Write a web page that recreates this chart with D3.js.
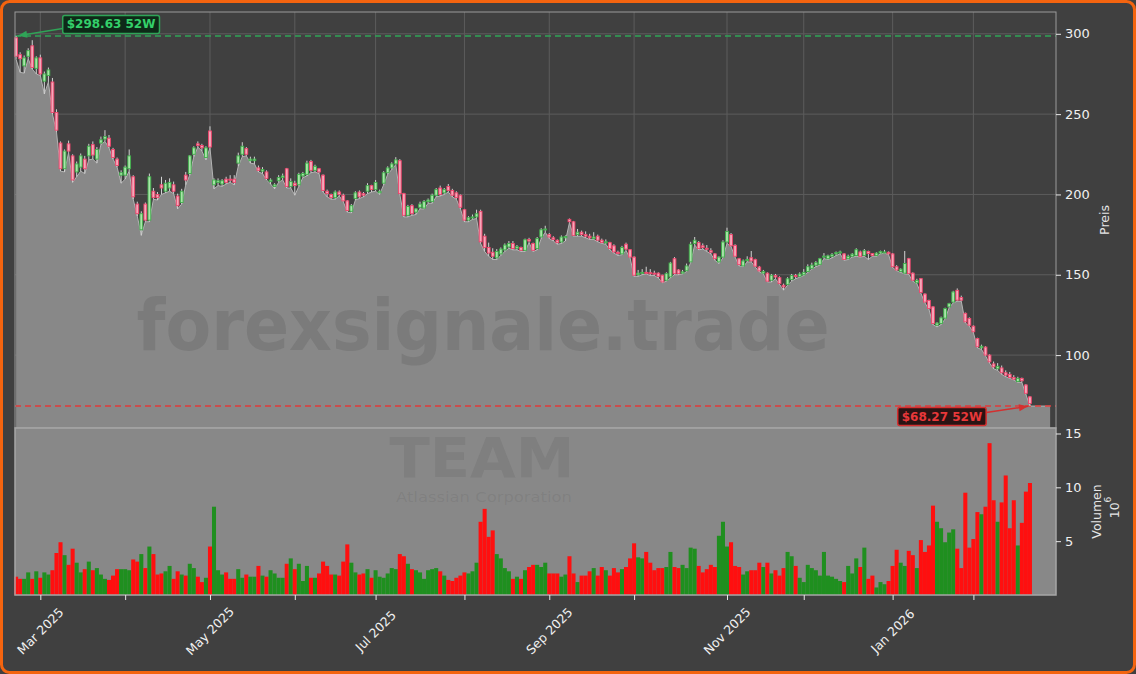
<!DOCTYPE html>
<html>
<head>
<meta charset="utf-8">
<script src="https://cdn.jsdelivr.net/npm/d3@7"></script>
<style>
  html, body { margin: 0; padding: 0; background: #404040; }
  svg { display: block; font-family: "DejaVu Sans", sans-serif; }
</style>
</head>
<body>
<svg id="chart" width="1136" height="674"></svg>
<script>
// TEAM daily candles, 52 weeks (trading days only)
const firstDay = "2025-02-21";
const lastDay = "2026-02-23";
const holidays = ["2025-04-18", "2025-05-26", "2025-06-19", "2025-07-04", "2025-09-01",
    "2025-11-27", "2025-12-25", "2026-01-01", "2026-01-19", "2026-02-16"];

const opens = [
    297.5, 287, 280, 286, 292.5, 278.5, 285, 270.5, 274, 270,
    251, 232, 216, 231.5, 224, 214, 217, 222, 224, 231,
    222, 232, 234.5, 235, 228, 222, 212, 212, 216, 211,
    194, 178, 194, 184, 202, 200, 206, 202, 204, 206,
    199, 195, 212, 213, 225, 231.5, 230.5, 223, 239.5, 206,
    207.5, 206.5, 209.5, 209.5, 209.5, 219.5, 225, 228.5, 221, 221,
    216.5, 214.5, 214, 208, 205, 208.5, 210.5, 216, 205, 207,
    206, 211.5, 212.5, 220.5, 215, 216, 212, 202, 200, 198,
    201.5, 199.5, 196, 189.5, 197.5, 201.5, 200.5, 202, 205.5, 203,
    201, 207, 213.5, 216.5, 219, 221, 200.5, 187, 193, 189,
    192, 191.5, 195.5, 195.5, 199.5, 204, 201, 205, 202.5, 201,
    199.5, 190.5, 184, 185.5, 186, 189.5, 174, 167, 164, 160.5,
    163, 165.5, 167.3, 169.5, 166.5, 167, 165.2, 172, 169.5, 166.3,
    173.5, 178, 175, 173, 171.5, 170.4, 173, 184.5, 183, 175,
    176.5, 175, 174, 172.5, 174, 171.5, 170, 170, 168, 164,
    163, 169, 165.6, 161, 150, 151, 151.5, 151.3, 151, 151,
    149.7, 146.6, 148.7, 160, 153, 151, 152.5, 158, 169.5, 170,
    168, 166.5, 165, 163, 158, 161, 170.4, 175, 168.3, 160,
    155.5, 158.8, 160.6, 159.4, 154.8, 151, 151, 146.6, 149.5, 148.2,
    143.5, 144, 147, 149.5, 149, 150, 152, 154, 156, 156.5,
    161, 160, 161.5, 163, 163.8, 163, 160, 161.5, 162, 164.2,
    162, 164.5, 163.2, 162, 163.5, 163.8, 164, 163, 155, 152,
    151, 160, 151, 145, 147.6, 138, 134, 130, 118.6, 119.7,
    123, 130, 133, 140.3, 135.8, 126, 122.8, 118, 110.3, 104.5,
    105, 100, 94.5, 91.5, 92, 89, 88, 86, 83.5, 85.5,
    81.4, 74
];
const highs = [
    298.63, 288.5, 286.5, 291, 296, 286, 287, 276.5, 279, 272.5,
    253, 233, 228, 233.5, 225, 220.5, 225.5, 224, 231.5, 233,
    229.5, 236, 240, 237, 229, 223, 215, 218, 228, 212,
    195.5, 189.5, 195, 213, 204, 201.5, 211, 209, 210, 208,
    200.5, 203.5, 214, 224.5, 230, 233, 231.5, 230, 242.4, 210,
    210, 209.5, 211, 212, 212, 226, 232.5, 229.5, 223.5, 223.5,
    218, 217, 215, 210, 207, 212, 213, 216.5, 210, 208.5,
    213.5, 214, 221, 221.5, 218.5, 216.5, 212.5, 203, 200.5, 202.5,
    202.5, 200.5, 196.5, 194, 202, 202.5, 201.5, 207, 206, 209,
    203, 214.5, 217.5, 220, 223.2, 222, 201, 193.5, 194, 191.5,
    195.5, 196.5, 197.5, 200.5, 204, 205.5, 204, 206.5, 203.5, 202,
    200, 191, 186.5, 187.5, 190.5, 190.5, 175.5, 170, 166.5, 166,
    167, 169.5, 171, 171, 168.5, 167.5, 172.5, 173, 170, 173.5,
    179, 180.5, 176, 174, 172, 174.5, 174.5, 185, 183.5, 178.5,
    177.5, 177, 175.5, 176.5, 175, 172.5, 172, 170.5, 169, 165,
    168, 170, 166, 161.5, 153, 153.5, 155, 153.5, 152.5, 151.5,
    150, 151.5, 158, 161, 153.5, 153, 157, 170.5, 173.5, 171,
    169.5, 168.5, 166.5, 163.5, 161.5, 171.5, 179.3, 176, 169, 160.5,
    159.5, 161.5, 164.8, 160, 155.5, 153, 151.5, 150.5, 150.5, 149,
    144.5, 148.5, 150.5, 150.5, 151.5, 153.5, 156.5, 157.5, 158.5, 160.5,
    163.5, 162.5, 163.5, 164.5, 165, 163.5, 162.5, 163.5, 166.5, 165,
    166, 165, 163.5, 164, 165, 165.5, 164.5, 163.5, 156, 154,
    164.8, 160.5, 151.5, 147.5, 148, 138.5, 134.5, 130.5, 120.5, 124,
    129.5, 132.5, 140, 141.5, 137, 126.5, 123.5, 118.5, 110.8, 106.5,
    105.5, 100.5, 96, 95, 93.5, 90.5, 89.5, 87.5, 86.5, 86,
    82, 74.5
];
const lows = [
    284, 276, 275.5, 284.5, 278, 275, 274, 262.5, 270, 250,
    239, 214.5, 214, 226, 207.5, 211, 214.5, 213, 221.5, 222,
    219.5, 231, 233, 229, 222, 217, 207, 209.5, 214.5, 197,
    186.5, 174.5, 183, 183, 197, 196.5, 200, 201, 202, 200.5,
    191, 194, 206, 212, 223.5, 229.5, 227, 221.5, 229, 203.5,
    205.5, 205, 206.5, 207.5, 206, 217.5, 223.5, 224, 219.5, 219,
    214, 213, 209, 206.5, 203.5, 207.5, 209, 204, 204, 199.5,
    205, 210.5, 211.5, 213.5, 214, 213, 201.5, 198.5, 197, 197,
    199, 195.5, 189, 188.5, 196.5, 197.5, 198.5, 200.5, 201.5, 202,
    200, 206, 212.5, 215.5, 218.5, 200, 186, 186, 187, 187.5,
    191, 191, 194.5, 194.5, 198.5, 199, 200, 201.5, 198.5, 197,
    191, 183, 183, 184.5, 185, 169.5, 164.5, 161.5, 159.5, 159.5,
    162, 164.5, 166.5, 165.5, 165.5, 164.5, 164.5, 170, 164.5, 165.5,
    172.5, 176.5, 172.5, 171, 169, 169.5, 171, 182.5, 174, 174,
    174, 173, 172, 172, 170.5, 169.5, 169, 165.5, 163.5, 162,
    162.5, 165, 160.5, 149, 149, 150, 150.5, 149.5, 149.5, 148,
    145, 146, 148, 150, 150, 150.5, 152, 157.5, 168.5, 165.5,
    166, 164.5, 163, 159, 157, 160.5, 169.5, 167.5, 161, 155.5,
    155, 158, 158, 154.8, 151.8, 150.5, 145.5, 145.5, 147.5, 144,
    140.4, 143.5, 146, 147.5, 148.5, 149.5, 151.5, 153.5, 155, 156,
    160, 159.5, 160.5, 162, 163, 159, 159.5, 161, 161.5, 161,
    161.5, 159.5, 161.5, 161.5, 163, 163.5, 162.5, 154.5, 152.5, 151.5,
    150.5, 150.2, 146, 144.5, 138.5, 132.5, 128.5, 119, 117.5, 119,
    122.5, 129.5, 132.5, 133.5, 133.5, 120, 118, 114, 104.5, 103.5,
    99.5, 95, 91.5, 90.5, 88, 86.5, 85.5, 84.5, 83, 83,
    75.5, 68.27
];
const closes = [
    286, 284.5, 285, 289.5, 279, 285, 275, 275, 277.5, 251,
    240, 216, 227, 227, 209, 219, 224, 216, 230, 224.5,
    228, 234, 236, 230, 223, 218, 213.5, 217, 224, 198.5,
    188, 188, 184, 211, 198, 198, 204, 207, 207.5, 202,
    193, 202, 209, 224, 229, 230.5, 229, 229, 229.5, 209,
    208.5, 208.5, 207.5, 209, 207.5, 224, 230, 225, 222, 222,
    215, 215.5, 210, 209, 206, 210.5, 211.5, 205, 208, 205.5,
    212.5, 213, 219.5, 215, 217.5, 214, 202.5, 200.5, 198, 201.5,
    200, 196, 190, 193, 201, 198.5, 199.5, 205.5, 203, 207.5,
    202, 213.5, 216.5, 219, 221.5, 200.5, 187, 192.5, 188, 191,
    194, 195.5, 196.5, 199.5, 203, 200, 203, 202.5, 199.5, 198,
    192, 184, 185.5, 186, 188, 170.5, 167, 163.5, 161.5, 164.5,
    166, 168.5, 169.5, 166.3, 167.5, 165.2, 171.8, 171, 165.2, 172.5,
    178, 178.5, 173.5, 172, 170, 173.5, 173.8, 183, 174.5, 176.5,
    175, 174, 173, 173.5, 171.5, 170, 170.5, 166.3, 164.2, 163.2,
    167, 166, 161, 149.7, 151, 151.5, 151.3, 151, 150.7, 149,
    145.5, 150.7, 157.3, 150.7, 150.7, 151.8, 155.5, 169, 171.5, 166.3,
    167, 166, 164, 160, 161, 170.4, 177, 168, 161.5, 156.3,
    158.6, 159.5, 158.6, 155.3, 152.4, 152, 146, 149.7, 148.6, 144.5,
    142.4, 147.5, 149.5, 149, 150.5, 151.5, 155, 156, 157.5, 160,
    161.6, 161.8, 162.5, 163.8, 164.2, 159.5, 161.5, 162.8, 165.6, 161.5,
    165, 163.2, 162, 163.5, 164.5, 164.2, 163, 155, 153, 153.5,
    157, 150.7, 146.6, 146.5, 139, 133, 129, 119.7, 119.9, 123.2,
    129, 132, 139.3, 134.2, 134.2, 120.7, 118.6, 114.5, 105.2, 105.5,
    100, 95.8, 92.7, 93, 89, 87.5, 86, 85, 85.5, 84,
    76.2, 69.9
];
// volume in millions of shares
const volumes = [
    1.7, 1.5, 1.5, 2.1, 1.5, 2.2, 1.6, 2.1, 1.9, 2.3,
    3.9, 4.9, 3.7, 2.8, 4.3, 3.0, 2.1, 2.4, 3.1, 2.3,
    2.5, 1.9, 1.5, 1.4, 1.8, 2.4, 2.4, 2.4, 2.3, 3.3,
    3.1, 3.8, 2.5, 4.5, 3.8, 1.9, 2.0, 2.2, 2.7, 1.5,
    2.2, 1.9, 1.8, 2.9, 2.5, 1.7, 1.2, 1.6, 4.5, 8.2,
    2.3, 1.9, 2.1, 1.5, 1.5, 2.4, 1.6, 1.9, 1.7, 1.7,
    2.7, 1.8, 1.7, 2.3, 2.0, 1.6, 1.6, 2.9, 3.4, 2.4,
    2.9, 1.3, 2.7, 1.6, 1.6, 2.0, 3.1, 2.7, 1.9, 1.9,
    1.8, 3.1, 4.7, 3.0, 2.1, 1.9, 2.0, 2.4, 1.6, 2.3,
    1.7, 1.6, 2.0, 2.5, 2.4, 3.8, 3.6, 2.9, 2.4, 2.3,
    2.1, 1.5, 2.3, 2.4, 2.5, 2.2, 1.8, 1.4, 1.3, 1.6,
    1.8, 2.1, 2.0, 2.2, 3.0, 6.8, 8.0, 5.4, 6.0, 3.8,
    3.4, 2.5, 2.2, 1.5, 1.7, 1.5, 2.3, 2.6, 2.8, 2.8,
    2.6, 3.0, 2.0, 2.0, 2.0, 1.7, 1.9, 3.6, 2.0, 1.2,
    1.8, 1.8, 2.2, 2.5, 1.8, 2.6, 2.3, 1.8, 2.5, 2.1,
    2.4, 2.6, 3.4, 4.8, 3.5, 3.4, 4.0, 3.0, 2.3, 2.5,
    2.5, 2.6, 4.0, 2.6, 2.5, 2.8, 2.5, 4.4, 4.3, 2.7,
    2.1, 2.4, 2.8, 2.6, 5.5, 6.8, 4.5, 4.9, 2.7, 2.6,
    1.9, 2.2, 2.3, 2.3, 3.0, 2.6, 3.0, 2.0, 2.3, 1.8,
    2.5, 4.0, 3.6, 2.7, 1.6, 1.2, 2.8, 2.5, 2.3, 1.8,
    4.0, 1.8, 1.7, 1.5, 1.3, 1.2, 2.7, 2.0, 3.4, 2.6,
    4.4, 1.5, 1.8, 0.7, 1.2, 1.0, 1.3, 2.7, 4.2, 3.0,
    2.7, 4.1, 3.7, 2.5, 5.1, 4.0, 4.6, 8.3, 6.8, 6.2,
    4.9, 5.8, 6.1, 4.3, 2.5, 9.5, 4.4, 5.2, 7.7, 7.5,
    8.2, 14.1, 8.8, 6.8, 8.6, 11.1, 6.2, 8.8, 4.6, 6.7,
    9.6, 10.4
];

const priceTicks = [100, 150, 200, 250, 300];
const volumeTicks = [5, 10, 15];
const watermark = "forexsignale.trade";
const tickerName = "TEAM";
const companyName = "Atlassian Corporation";

///////////////////////////////
/// Layout
///////////////////////////////

const W = 1136, H = 674;
const plotLeft = 15, plotRight = 1056;
const priceTop = 12, priceBottom = 428;
const volTop = 428, volBottom = 595;
const bg = "#404040";
const upStroke = "#3fae4a", upFill = "#a9e5a9";
const downStroke = "#f0436b", downFill = "#f5a8ba";

const svg = d3.select("#chart");
const n = closes.length;

// trading calendar
const parseDay = d3.timeParse("%Y-%m-%d");
const fmtDay = d3.timeFormat("%Y-%m-%d");
const holidaySet = new Set(holidays);
const dates = d3.timeDay.range(parseDay(firstDay), d3.timeDay.offset(parseDay(lastDay), 1))
    .filter(d => d.getDay() !== 0 && d.getDay() !== 6 && !holidaySet.has(fmtDay(d)));

// first trading day of every month
const monthIdx = d3.range(1, n).filter(i => dates[i].getMonth() !== dates[i - 1].getMonth());

let x = d3.scaleLinear().domain([-0.27, n - 1 + 6.45]).range([plotLeft, plotRight]);
let step = x(1) - x(0);

let hi52 = d3.max(highs), lo52 = d3.min(lows);
let y = d3.scaleLinear().domain([lo52 * 0.8, hi52 * 1.05]).range([priceBottom, priceTop]);
let yv = d3.scaleLinear().domain([0, d3.max(volumes) * 1.1]).range([volBottom, volTop]);

// background + orange frame
svg.append("rect").attr("x", 1.5).attr("y", 1.5).attr("width", W - 3).attr("height", H - 3)
    .attr("rx", 8).attr("fill", bg).attr("stroke", "#f4640f").attr("stroke-width", 3);

///////////////////////////////
/// Price panel
///////////////////////////////

let gPrice = svg.append("g");

gPrice.selectAll("line.hgrid").data(priceTicks).enter().append("line")
    .attr("x1", plotLeft).attr("x2", plotRight)
    .attr("y1", d => y(d)).attr("y2", d => y(d))
    .attr("stroke", "#5c5c5c").attr("stroke-width", 1);

gPrice.selectAll("line.vgrid").data(monthIdx).enter().append("line")
    .attr("x1", d => x(d)).attr("x2", d => x(d))
    .attr("y1", priceTop).attr("y2", priceBottom)
    .attr("stroke", "#5c5c5c").attr("stroke-width", 1);

// area under the lows, carried a few bars to the right
let areaIdx = d3.range(n).concat([n + 4]);
let lowAt = i => lows[Math.min(i, n - 1)];
let area = d3.area().x(i => x(i)).y0(priceBottom).y1(i => y(lowAt(i)));
let line = d3.line().x(i => x(i)).y(i => y(lowAt(i)));

gPrice.append("path").datum(areaIdx).attr("d", area).attr("fill", "#888888");
gPrice.append("path").datum(areaIdx).attr("d", line)
    .attr("fill", "none").attr("stroke", "#b4b4b4").attr("stroke-width", 1);

gPrice.append("text")
    .attr("x", 483).attr("y", 350)
    .attr("text-anchor", "middle")
    .attr("font-size", 72).attr("font-weight", "bold")
    .attr("textLength", 693).attr("lengthAdjust", "spacingAndGlyphs")
    .attr("fill", "#3a3a3a").attr("fill-opacity", 0.16)
    .text(watermark);

// 52 week lines
gPrice.append("line")
    .attr("x1", plotLeft).attr("x2", plotRight)
    .attr("y1", y(hi52)).attr("y2", y(hi52))
    .attr("stroke", "#2fa457").attr("stroke-width", 1.5).attr("stroke-dasharray", "6,4");
gPrice.append("line")
    .attr("x1", plotLeft).attr("x2", plotRight)
    .attr("y1", y(lo52)).attr("y2", y(lo52))
    .attr("stroke", "#e03a3a").attr("stroke-width", 1.5).attr("stroke-dasharray", "6,4");

// candles
let candles = gPrice.selectAll("g.candle").data(d3.range(n)).enter().append("g");
candles.append("line")
    .attr("x1", i => x(i)).attr("x2", i => x(i))
    .attr("y1", i => y(highs[i])).attr("y2", i => y(lows[i]))
    .attr("stroke", "#d2d2d2").attr("stroke-width", 1);
candles.append("rect")
    .attr("x", i => x(i) - 1.4).attr("width", 2.8)
    .attr("y", i => y(Math.max(opens[i], closes[i])))
    .attr("height", i => Math.max(1, Math.abs(y(opens[i]) - y(closes[i]))))
    .attr("fill", i => closes[i] >= opens[i] ? upFill : downFill)
    .attr("stroke", i => closes[i] >= opens[i] ? upStroke : downStroke)
    .attr("stroke-width", 0.9);

gPrice.append("rect")
    .attr("x", plotLeft).attr("y", priceTop)
    .attr("width", plotRight - plotLeft).attr("height", priceBottom - priceTop)
    .attr("fill", "none").attr("stroke", "#9a9a9a").attr("stroke-width", 1);

///////////////////////////////
/// Volume panel
///////////////////////////////

let gVol = svg.append("g");
gVol.append("rect")
    .attr("x", plotLeft).attr("y", volTop)
    .attr("width", plotRight - plotLeft).attr("height", volBottom - volTop)
    .attr("fill", "#888888");

gVol.selectAll("rect.vol").data(d3.range(n)).enter().append("rect")
    .attr("x", i => x(i) - step / 2).attr("width", step)
    .attr("y", i => yv(volumes[i])).attr("height", i => volBottom - yv(volumes[i]))
    .attr("fill", i => closes[i] >= opens[i] ? "#1f8f1f" : "#ff0f0f");

gVol.append("text")
    .attr("x", 482).attr("y", 477).attr("text-anchor", "middle")
    .attr("font-size", 56).attr("font-weight", "bold")
    .attr("textLength", 185).attr("lengthAdjust", "spacingAndGlyphs")
    .attr("fill", "#3a3a3a").attr("fill-opacity", 0.11)
    .text(tickerName);
gVol.append("text")
    .attr("x", 484).attr("y", 502).attr("text-anchor", "middle")
    .attr("font-size", 14)
    .attr("textLength", 176).attr("lengthAdjust", "spacingAndGlyphs")
    .attr("fill", "#3a3a3a").attr("fill-opacity", 0.11)
    .text(companyName);

gVol.append("rect")
    .attr("x", plotLeft).attr("y", volTop)
    .attr("width", plotRight - plotLeft).attr("height", volBottom - volTop)
    .attr("fill", "none").attr("stroke", "#a6a6a6").attr("stroke-width", 1.5);

///////////////////////////////
/// Axes
///////////////////////////////

let styleAxis = function (g) {
    g.select(".domain").remove();
    g.selectAll(".tick line").attr("stroke", "#e8e8e8");
    g.selectAll(".tick text").attr("fill", "#f0f0f0")
        .attr("font-size", 13).attr("font-family", "DejaVu Sans, sans-serif");
};

svg.append("g").attr("transform", "translate(" + plotRight + ",0)")
    .call(d3.axisRight(y).tickValues(priceTicks).tickSize(5).tickPadding(4))
    .call(styleAxis);
svg.append("g").attr("transform", "translate(" + plotRight + ",0)")
    .call(d3.axisRight(yv).tickValues(volumeTicks).tickSize(5).tickPadding(4))
    .call(styleAxis);

let xAxis = svg.append("g").attr("transform", "translate(0," + volBottom + ")")
    .call(d3.axisBottom(x).tickValues(monthIdx).tickSize(5).tickFormat(""))
    .call(styleAxis);

let monthFmt = d3.timeFormat("%b %Y");
svg.selectAll("text.xlab").data(monthIdx.filter(i => dates[i].getMonth() % 2 === 0)).enter()
    .append("text")
    .attr("transform", i => "translate(" + x(i) + "," + 631 + ") rotate(-45)")
    .attr("text-anchor", "middle").attr("dominant-baseline", "central")
    .attr("font-size", 12.5).attr("fill", "#f0f0f0")
    .text(i => monthFmt(dates[i]));

svg.append("text")
    .attr("transform", "translate(1104," + (priceTop + priceBottom) / 2 + ") rotate(-90)")
    .attr("text-anchor", "middle").attr("dominant-baseline", "central")
    .attr("font-size", 12.5).attr("fill", "#e6e6e6")
    .text("Preis");
svg.append("text")
    .attr("transform", "translate(1096," + (volTop + volBottom) / 2 + ") rotate(-90)")
    .attr("text-anchor", "middle").attr("dominant-baseline", "central")
    .attr("font-size", 12.5).attr("fill", "#e6e6e6")
    .text("Volumen");
let exp = svg.append("text")
    .attr("transform", "translate(1114," + ((volTop + volBottom) / 2 - 4) + ") rotate(-90)")
    .attr("text-anchor", "middle").attr("dominant-baseline", "central")
    .attr("font-size", 12.5).attr("fill", "#e6e6e6");
exp.append("tspan").text("10");
exp.append("tspan").attr("font-size", 9).attr("dy", -6).text("6");

///////////////////////////////
/// 52W annotations
///////////////////////////////

function annotate(idx, price, dx, dy, label, stroke, fill, textColor) {
    let px = x(idx), py = y(price);
    let cx = px + dx, cy = py + dy;
    let g = svg.append("g");
    let t = g.append("text")
        .attr("x", cx).attr("y", cy)
        .attr("text-anchor", "middle").attr("dominant-baseline", "central")
        .attr("font-size", 12).attr("font-weight", "bold")
        .attr("fill", textColor).text(label);
    let bb = t.node().getBBox();
    g.insert("rect", "text")
        .attr("x", bb.x - 4).attr("y", cy - 9)
        .attr("width", bb.width + 8).attr("height", 18).attr("rx", 2)
        .attr("fill", fill).attr("stroke", stroke).attr("stroke-width", 1.5);
    // arrow from box edge to the point
    let sx = dx > 0 ? bb.x - 4 : bb.x + bb.width + 4;
    let sy = cy + (dx > 0 ? 4 : -4);
    let ang = Math.atan2(py - sy, px - sx);
    let ex = px - Math.cos(ang) * 2, ey = py - Math.sin(ang) * 2;
    g.append("line").attr("x1", sx).attr("y1", sy).attr("x2", ex).attr("y2", ey)
        .attr("stroke", stroke).attr("stroke-width", 1.5);
    let ah = 9, aw = 3.5;
    let bx = ex - Math.cos(ang) * ah, by = ey - Math.sin(ang) * ah;
    g.append("path")
        .attr("d", "M" + ex + "," + ey +
            "L" + (bx + Math.sin(ang) * aw) + "," + (by - Math.cos(ang) * aw) +
            "L" + (bx - Math.sin(ang) * aw) + "," + (by + Math.cos(ang) * aw) + "Z")
        .attr("fill", stroke);
}

let hiIdx = highs.indexOf(hi52), loIdx = lows.indexOf(lo52);
annotate(hiIdx, hi52, 95, -11.5, "$" + hi52.toFixed(2) + " 52W", "#2fa457", "#0e2a18", "#34d06a");
annotate(loIdx, lo52, -88, 10.5, "$" + lo52.toFixed(2) + " 52W", "#d43030", "#2a1414", "#e8383a");
</script>
</body>
</html>
